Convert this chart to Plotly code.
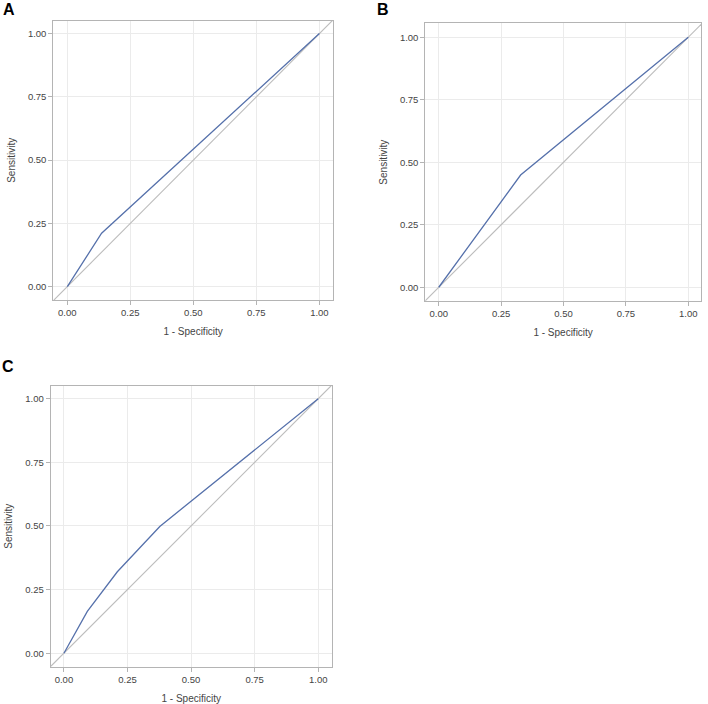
import plotly.graph_objects as go

# ---- data ----
fpr_a = [0.0, 0.136, 1.0]
tpr_a = [0.0, 0.211, 1.0]

fpr_b = [0.0, 0.328, 1.0]
tpr_b = [0.0, 0.449, 1.0]

fpr_c = [0.0, 0.092, 0.21, 0.34, 0.377, 1.0]
tpr_c = [0.0, 0.164, 0.32, 0.46, 0.498, 1.0]

diag = [-0.1, 1.1]
tick_vals = [0.0, 0.25, 0.50, 0.75, 1.00]
tick_text = ["0.00", "0.25", "0.50", "0.75", "1.00"]
panel_labels = ["A", "B", "C"]

W, H = 708, 704
BLUE = "#5671ab"
GRAY_DIAG = "#bcbcbc"
FRAME = "#b4b4b4"
GRID = "#ebebeb"
FONT = "Liberation Sans, Arial, sans-serif"

# panel frames in pixels: left, right, top, bottom
frames = [
    (53.3, 333.0, 20.7, 300.0),
    (425.3, 701.0, 23.3, 301.0),
    (50.7, 331.7, 385.7, 666.7),
]
xranges = [(-0.0556, 1.054), (-0.054, 1.051), (-0.052, 1.053)]
yranges = [(-0.053, 1.051), (-0.055, 1.056), (-0.053, 1.051)]
series = [(fpr_a, tpr_a), (fpr_b, tpr_b), (fpr_c, tpr_c)]
letter_pos = [(9, 9), (383, 9.5), (8, 366)]

fig = go.Figure()
layout = dict(
    width=W, height=H,
    margin=dict(l=0, r=0, t=0, b=0),
    paper_bgcolor="white", plot_bgcolor="white",
    showlegend=False,
    font=dict(family=FONT, color="#444444"),
    annotations=[],
)

for i, ((l, r, t, b), (xs, ys), xr, yr) in enumerate(zip(frames, series, xranges, yranges)):
    n = "" if i == 0 else str(i + 1)
    xa = "x" + n
    ya = "y" + n
    fig.add_trace(go.Scatter(x=diag, y=diag, mode="lines",
                             line=dict(color=GRAY_DIAG, width=1.1),
                             xaxis=xa, yaxis=ya, hoverinfo="skip"))
    fig.add_trace(go.Scatter(x=xs, y=ys, mode="lines",
                             line=dict(color=BLUE, width=1.3),
                             xaxis=xa, yaxis=ya))
    axcommon = dict(
        tickvals=tick_vals, ticktext=tick_text,
        showline=True, linecolor=FRAME, linewidth=1, mirror=True,
        showgrid=True, gridcolor=GRID, gridwidth=1,
        zeroline=False,
        ticks="outside", ticklen=4, tickcolor=FRAME,
        tickfont=dict(size=9.5, color="#444444", family=FONT),
        automargin=False, fixedrange=True,
    )
    layout["xaxis" + n] = dict(
        axcommon,
        domain=[l / W, r / W], range=list(xr), anchor=ya,
        title=dict(text="1 - Specificity", font=dict(size=10, color="#444444"), standoff=10),
    )
    layout["yaxis" + n] = dict(
        axcommon,
        domain=[1 - b / H, 1 - t / H], range=list(yr), anchor=xa,
        title=dict(text="Sensitivity", font=dict(size=10, color="#444444"), standoff=10),
    )
    lx, ly = letter_pos[i]
    layout["annotations"].append(dict(
        text="<b>%s</b>" % panel_labels[i], x=lx / W, y=1 - ly / H,
        xref="paper", yref="paper", xanchor="center", yanchor="middle",
        showarrow=False, font=dict(size=16, color="black", family=FONT),
    ))

fig.update_layout(**layout)
fig.write_html("out.html",
               config={"displayModeBar": False},
               post_script="document.body.style.margin='0';document.body.style.overflow='hidden';")
